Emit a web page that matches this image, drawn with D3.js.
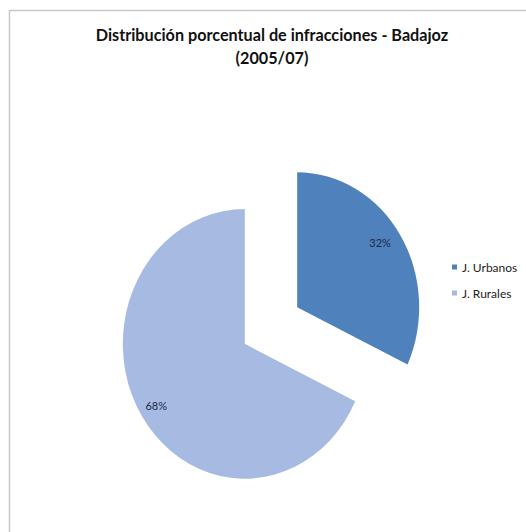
<!DOCTYPE html>
<html><head><meta charset="utf-8">
<script src="https://cdn.jsdelivr.net/npm/d3@7"></script>
<style>body{margin:0;background:#fff}svg{display:block}</style>
</head><body>
<svg id="c" width="526" height="532"></svg>
<script>
const categories = ["J. Urbanos", "J. Rurales"];
const values = [32, 68];
const labels = ["32%", "68%"];
const colors = ["#4F81BD", "#A7BAE1"];
const titleLines = ["Distribución porcentual de infracciones - Badajoz", "(2005/07)"];

const svg = d3.select("#c");
const font = "Lato, 'Open Sans', sans-serif";
svg.append("rect").attr("x", 9.5).attr("y", 10.5).attr("width", 530).attr("height", 530)
  .attr("fill", "#fff").attr("stroke", "#c8c8c8").attr("stroke-width", 1.5);

svg.append("g").selectAll("text").data(titleLines).join("text")
  .attr("x", 272).attr("y", (d, i) => 41 + i * 23)
  .attr("text-anchor", "middle").attr("font-family", font).attr("font-weight", "bold")
  .attr("font-size", 16.2).attr("fill", "#111").text(d => d);

const cx = 271, cy = 325.5, sy = 1.105, r = 122, explode = 31;
const pie = d3.pie().sort(null).value(d => d);
const arcs = pie(values);
const arc = d3.arc().innerRadius(0).outerRadius(r);
const g = svg.append("g").attr("transform", `translate(${cx},${cy}) scale(1,${sy})`);
g.selectAll("path").data(arcs).join("path")
  .attr("transform", d => {
    const a = (d.startAngle + d.endAngle) / 2;
    return `translate(${explode * Math.sin(a)},${-explode * Math.cos(a)})`;
  })
  .attr("d", arc).attr("fill", (d, i) => colors[i]);

const rr = [0.83, 0.86], da = [-0.045, 0];
function lp(d, i) {
  const a = (d.startAngle + d.endAngle) / 2;
  const b = a + da[i];
  return [cx + explode * Math.sin(a) + rr[i] * r * Math.sin(b),
          cy + sy * (-explode * Math.cos(a) - rr[i] * r * Math.cos(b))];
}
svg.append("g").selectAll("text").data(arcs).join("text")
  .attr("x", (d, i) => lp(d, i)[0])
  .attr("y", (d, i) => lp(d, i)[1] + 4)
  .attr("text-anchor", "middle").attr("font-family", font).attr("font-size", 11)
  .attr("fill", "#1c2a4a").text((d, i) => labels[i]);

const leg = svg.append("g").selectAll("g").data(categories).join("g")
  .attr("transform", (d, i) => `translate(452,${268 + i * 26})`);
leg.append("rect").attr("x", 0).attr("y", -3.5).attr("width", 5).attr("height", 5)
  .attr("fill", (d, i) => colors[i]);
leg.append("text").attr("x", 10).attr("y", 0).attr("dy", "0.35em").attr("font-family", font)
  .attr("font-size", 12).attr("fill", "#222").text(d => d);
</script>
</body></html>
